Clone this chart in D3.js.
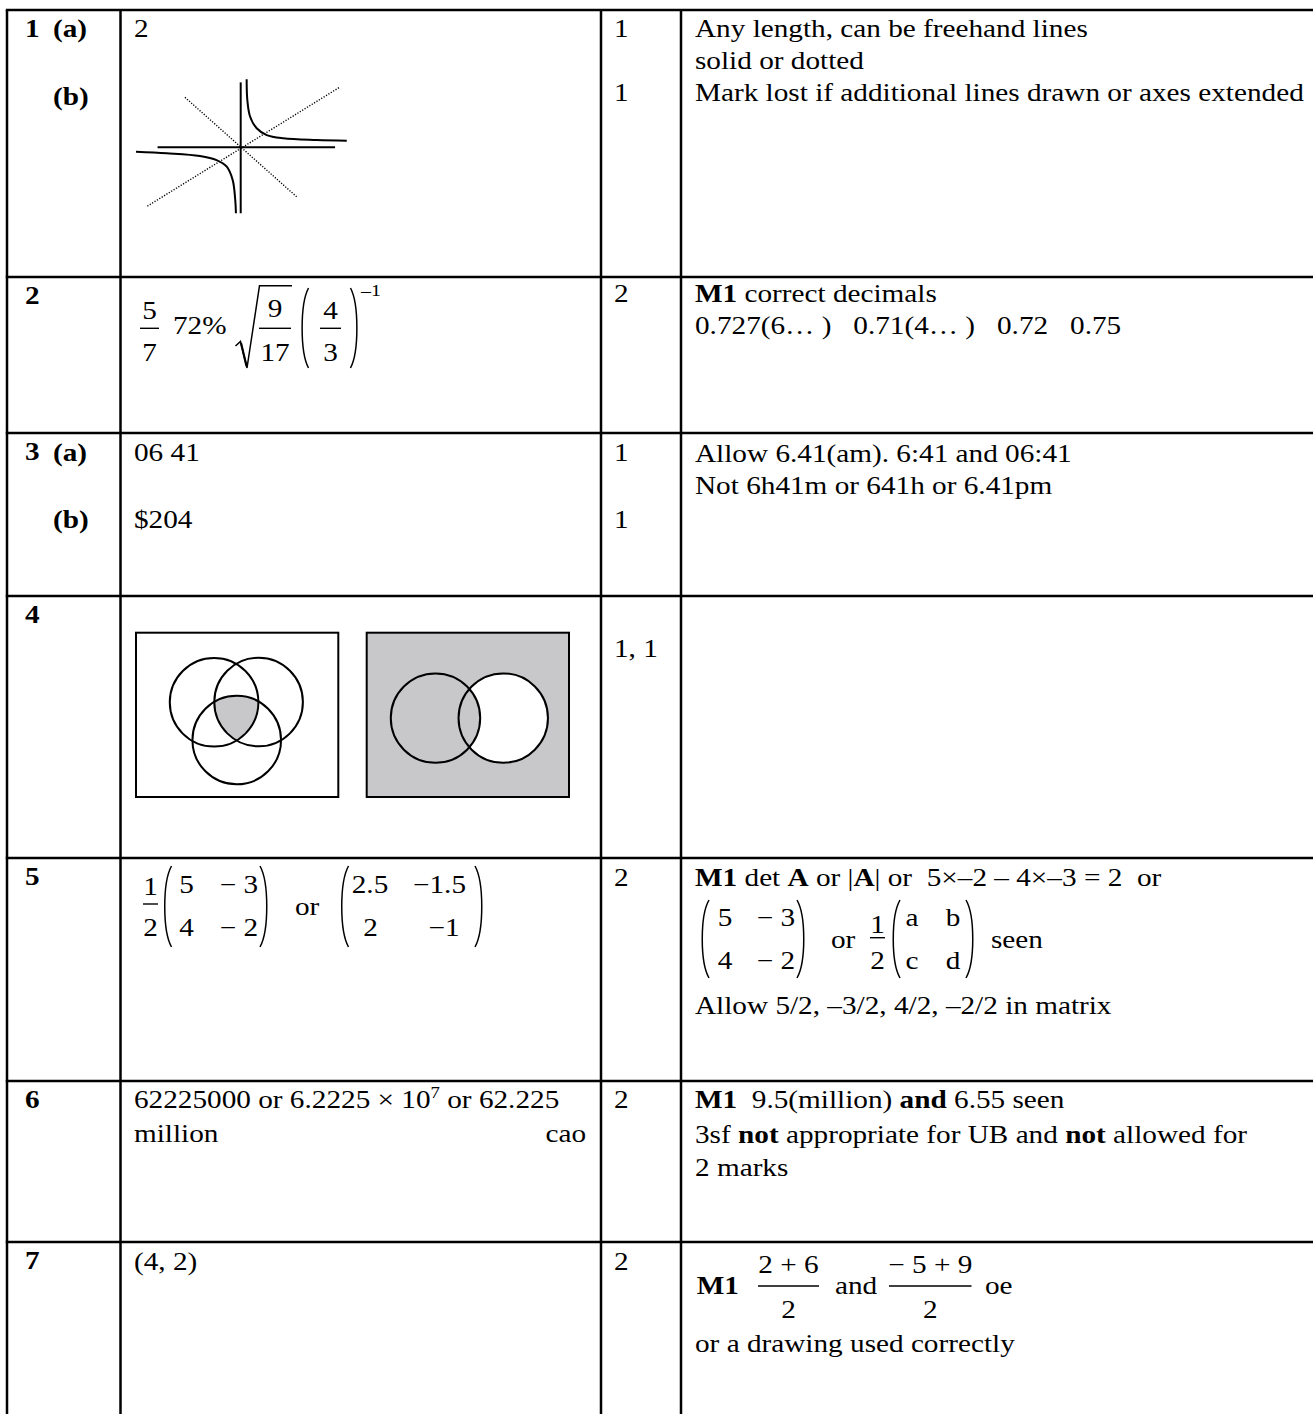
<!DOCTYPE html>
<html>
<head>
<meta charset="utf-8">
<script src="https://cdn.jsdelivr.net/npm/d3@7"></script>
<style>
  body { margin: 0; background: #fff; }
  svg text { font-family: "Liberation Serif", "Times New Roman", serif; font-size: 25px; fill: #000; white-space: pre; }
</style>
</head>
<body>
<svg id="sheet" width="1313" height="1414"></svg>
<script>
// ---- content ----
const questions = ['1', '2', '3', '4', '5', '6', '7'];
const parts = [['(a)', '(b)'], [], ['(a)', '(b)'], [], [], [], []];
const marks = [['1', '1'], ['2'], ['1', '1'], ['1, 1'], ['2'], ['2'], ['2']];
const plainAnswers = [['2'], [], ['06 41', '$204'], [], [], [], ['(4, 2)']];
const notes = [
  ['Any length, can be freehand lines', 'solid or dotted', 'Mark lost if additional lines drawn or axes extended'],
  ['**M1** correct decimals', '0.727(6… )   0.71(4… )   0.72   0.75'],
  ['Allow 6.41(am). 6:41 and 06:41', 'Not 6h41m or 641h or 6.41pm'],
  [],
  ['**M1** det **A** or |**A**| or  5×–2 – 4×–3 = 2  or'],
  ['**M1**  9.5(million) **and** 6.55 seen', '3sf **not** appropriate for UB and **not** allowed for', '2 marks'],
  []
];
const q5Matrix = [['5', '− 3'], ['4', '− 2']];
const q5Matrix2 = [['2.5', '−1.5'], ['2', '−1']];
const q5Letters = [['a', 'b'], ['c', 'd']];

// sketch for 1(b): hyperbola branches, asymptote axes and dotted symmetry lines (sketch units)
const branchUpper = [[0.35, 4.0], [0.39, 2.78], [0.55, 1.81], [0.94, 1.12], [1.53, 0.72], [2.51, 0.53], [4.47, 0.43], [6.24, 0.39]];
const branchLower = [[-6.16, -0.26], [-4.35, -0.35], [-2.4, -0.51], [-1.42, -0.75], [-0.82, -1.14], [-0.47, -1.93], [-0.32, -3.11], [-0.28, -3.88]];
const axesLines = [[[-4.89, 0], [5.55, 0]], [[0, -3.88], [0, 3.82]]];
const dottedLines = [[[-5.49, -3.46], [5.8, 3.52]], [[-3.28, 2.94], [3.29, -2.91]]];

// venn diagrams for Q4 (box units 0..100 x 0..81)
const venn1Circles = [[38.6, 34.3], [60.6, 34.2], [49.8, 52.9]];
const venn2Circles = [[34.0, 42.1], [67.5, 42.1]];
const vennRadius = [21.9, 22.1];

// ---- layout ----
const SX = 1.17;
const colX = [7, 120.5, 601, 681];
const rowY = [10, 277, 433, 596, 858, 1081, 1242];
const H = 1414, W = 1313;
const xLabel = 25, xPart = 53, xAns = 134, xMark = 614, xNote = 695;

const svg = d3.select('#sheet');
const g = svg.append('g');

function rich(x, y, str, opt = {}) {
  const t = g.append('text')
    .attr('transform', `translate(${x},${y}) scale(${SX},1)`)
    .attr('text-anchor', opt.anchor || 'start');
  if (opt.size) t.style('font-size', opt.size + 'px');
  if (opt.bold) t.attr('font-weight', 'bold');
  str.split(/(\*\*[^*]+\*\*)/).filter(s => s).forEach(s => {
    const b = s.startsWith('**');
    t.append('tspan').attr('font-weight', b ? 'bold' : null).text(b ? s.slice(2, -2) : s);
  });
  return t;
}

function frac(x0, x1, yBar, num, den, nb, db) {
  g.append('line').attr('x1', x0).attr('x2', x1).attr('y1', yBar).attr('y2', yBar)
    .attr('stroke', '#000').attr('stroke-width', 1.4);
  const cx = (x0 + x1) / 2;
  rich(cx, yBar - (nb || 9), num, {anchor: 'middle'});
  rich(cx, yBar + (db || 32.5), den, {anchor: 'middle'});
}

function paren(xo, xi, y0, y1) {
  // xo: outer (bulge) side, xi: tips side
  const h = y1 - y0;
  g.append('path')
    .attr('d', `M${xi},${y0} C${xo},${y0 + h * 0.2} ${xo},${y1 - h * 0.2} ${xi},${y1}`)
    .attr('fill', 'none').attr('stroke', '#000').attr('stroke-width', 1.5);
}

function matrix(cols, rows, y0, y1, xL, xR, entries) {
  paren(xL, xL + 9, y0, y1);
  entries.forEach((row, i) => row.forEach((v, j) => rich(cols[i][j], rows[i], v, {anchor: 'middle'})));
  paren(xR, xR - 9, y0, y1);
}

// ---- table grid ----
g.selectAll('line.h').data(rowY).join('line')
  .attr('x1', colX[0] - 1.2).attr('x2', W).attr('y1', d => d).attr('y2', d => d)
  .attr('stroke', '#000').attr('stroke-width', 2.5);
g.selectAll('line.v').data(colX).join('line')
  .attr('x1', d => d).attr('x2', d => d).attr('y1', rowY[0]).attr('y2', H)
  .attr('stroke', '#000').attr('stroke-width', 2.5);

// ---- question numbers, parts, marks ----
const partY = [[27, 95], [], [28, 95], [], [], [], []];
const markY = [[27, 91], [25], [28, 95], [61], [28], [27], [28]];
questions.forEach((q, i) => {
  rich(xLabel, rowY[i] + 27, q, {bold: true});
  parts[i].forEach((p, k) => rich(xPart, rowY[i] + partY[i][k], p, {bold: true}));
  marks[i].forEach((m, k) => rich(xMark, rowY[i] + markY[i][k], m));
});

// plain answers
const ansY = [[27], [], [28, 95], [], [], [], [28]];
plainAnswers.forEach((a, i) => a.forEach((s, k) => rich(xAns, rowY[i] + ansY[i][k], s)));

// notes
const noteY = [[27, 59, 91], [25, 57], [28.5, 60.5], [], [28], [27, 61.5, 95], []];
notes.forEach((n, i) => n.forEach((s, k) => rich(xNote, rowY[i] + noteY[i][k], s)));

// ---- Q1(b) sketch ----
const hx = d3.scaleLinear().domain([-6, 6]).range([240.7 - 102, 240.7 + 102]);
const hy = d3.scaleLinear().domain([-6, 6]).range([147.3 + 102, 147.3 - 102]);
const hline = d3.line().x(d => hx(d[0])).y(d => hy(d[1])).curve(d3.curveCatmullRom);
const straight = d3.line().x(d => hx(d[0])).y(d => hy(d[1]));
dottedLines.forEach(l => g.append('path').attr('d', straight(l))
  .attr('stroke', '#000').attr('stroke-width', 1.4).attr('stroke-dasharray', '1.2 1.6'));
[branchUpper, branchLower].forEach(b => g.append('path').attr('d', hline(b))
  .attr('fill', 'none').attr('stroke', '#000').attr('stroke-width', 2));
axesLines.forEach(l => g.append('path').attr('d', straight(l))
  .attr('stroke', '#000').attr('stroke-width', 2));

// ---- Q2 ordering ----
frac(140, 159, 328.3, '5', '7');
rich(173, 334, '72%');
g.append('path').attr('d', 'M235.5,346 L240.5,341.5 L247,368 L259.5,285.7 L292,285.7')
  .attr('fill', 'none').attr('stroke', '#000').attr('stroke-width', 1.5).attr('stroke-linejoin', 'miter');
g.append('line').attr('x1', 241).attr('y1', 343).attr('x2', 246.5).attr('y2', 366)
  .attr('stroke', '#000').attr('stroke-width', 2.2);
frac(259, 291, 328.3, '9', '17', 11.5);
paren(300, 308.5, 288, 368);
frac(320, 341, 328.3, '4', '3');
paren(359, 350.5, 288, 368);
rich(361, 296, '–1', {size: 17});

// ---- Q4 venn diagrams ----
const defs = svg.append('defs');
const boxes = [{x: 136, y: 632.7}, {x: 366.7, y: 632.7}];
boxes.forEach((b, bi) => {
  const vx = d3.scaleLinear().domain([0, 100]).range([b.x, b.x + 202.3]);
  const vy = d3.scaleLinear().domain([0, 81]).range([b.y, b.y + 164.3]);
  const r = vx(vennRadius[bi]) - vx(0);
  const circles = bi === 0 ? venn1Circles : venn2Circles;
  circles.forEach((c, ci) => {
    defs.append('clipPath').attr('id', `v${bi}c${ci}`)
      .append('circle').attr('cx', vx(c[0])).attr('cy', vy(c[1])).attr('r', r);
  });
  g.append('rect').attr('x', vx(0)).attr('y', vy(0)).attr('width', vx(100) - vx(0)).attr('height', vy(81) - vy(0))
    .attr('fill', bi === 0 ? '#fff' : '#c8c8ca').attr('stroke', 'none');
  if (bi === 0) {
    g.append('g').attr('clip-path', 'url(#v0c0)')
      .append('g').attr('clip-path', 'url(#v0c1)')
      .append('circle').attr('cx', vx(circles[2][0])).attr('cy', vy(circles[2][1])).attr('r', r).attr('fill', '#c8c8ca');
  } else {
    g.append('circle').attr('cx', vx(circles[1][0])).attr('cy', vy(circles[1][1])).attr('r', r).attr('fill', '#fff');
    g.append('g').attr('clip-path', 'url(#v1c0)')
      .append('circle').attr('cx', vx(circles[1][0])).attr('cy', vy(circles[1][1])).attr('r', r).attr('fill', '#c8c8ca');
  }
  g.selectAll(null).data(circles).join('circle')
    .attr('cx', d => vx(d[0])).attr('cy', d => vy(d[1])).attr('r', r)
    .attr('fill', 'none').attr('stroke', '#000').attr('stroke-width', 2);
  g.append('rect').attr('x', vx(0)).attr('y', vy(0)).attr('width', vx(100) - vx(0)).attr('height', vy(81) - vy(0))
    .attr('fill', 'none').attr('stroke', '#000').attr('stroke-width', 2);
});

// ---- Q5 inverse matrix ----
frac(143, 158, 904, '1', '2', 9, 32);
matrix([[186.5, 239], [186.5, 239]], [893, 936], 866, 947, 162.5, 269, q5Matrix);
rich(295, 915, 'or');
matrix([[370, 439.5], [370.5, 444]], [893, 936], 866, 947, 339.5, 484, q5Matrix2);
matrix([[725, 776], [725, 776]], [926, 968.7], 900, 978, 700, 806, q5Matrix);
rich(831, 948, 'or');
frac(870, 885, 937.7, '1', '2', 5, 31);
matrix([[912, 953], [912, 953]], [926, 968.7], 900, 978, 891, 975, q5Letters);
rich(991, 948, 'seen');
rich(xNote, 1014, 'Allow 5/2, –3/2, 4/2, –2/2 in matrix');

// ---- Q6 ----
const q6 = rich(xAns, 1108, '62225000 or 6.2225 × 10');
q6.append('tspan').attr('dy', -10).style('font-size', '16px').text('7');
q6.append('tspan').attr('dy', 10).text(' or 62.225');
rich(xAns, 1142, 'million');
rich(586, 1142, 'cao', {anchor: 'end'});

// ---- Q7 ----
rich(696.7, 1294, '**M1**');
frac(758, 819, 1286, '2 + 6', '2', 13, 32);
rich(835, 1294, 'and');
frac(889, 971.5, 1286, '− 5 + 9', '2', 13, 32);
rich(985, 1294, 'oe');
rich(xNote, 1352, 'or a drawing used correctly');
</script>
</body>
</html>
